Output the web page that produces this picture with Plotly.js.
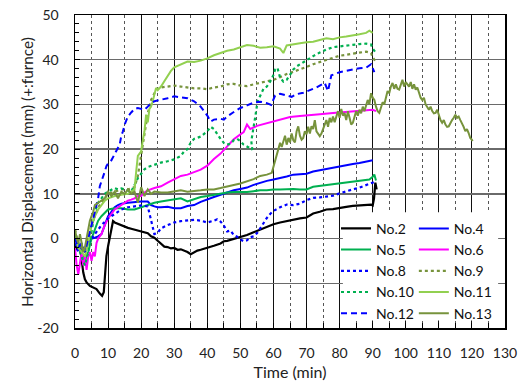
<!DOCTYPE html>
<html><head><meta charset="utf-8">
<script src="https://cdn.plot.ly/plotly-3.0.1.min.js"></script>
<style>html,body{margin:0;padding:0;background:#fff;}#c{width:519px;height:391px;}</style>
</head><body><div id="c"></div>
<script>
// ---- data ----
var names = ['No.2','No.4','No.5','No.6','No.8','No.9','No.10','No.11','No.12','No.13'];

var t2 = [0,0.5,1,1.5,2,2.5,3,3.5,4.5,5.5,6.5,7.5,8.2,8.7,9.1,9.5,10,10.5,11,11.5,12,13,14,15,16,17,18,19,20,21,22,23,24,25,26,27,28,29,30,31,32,33,34,35,36,37,38,40,42,44,45,46,48,50,52,54,56,58,60,62,64,66,68,70,72,74,76,78,80,82,84,86,88,89.5,90,90.4,90.8,91.2];
var y2 = [-1,-2.5,-2,-1.7,-4.7,-7.6,-9.1,-9.8,-10.6,-11,-11.3,-12.3,-12.8,-12,-8,-3.9,-1.7,0.5,2.2,3.9,3.6,3.3,3,2.6,2.4,2.2,2,1.8,1.6,1.5,1.2,0.5,0.2,-0.5,-1.2,-1.8,-1.9,-2.2,-2.1,-2.5,-2.4,-2.7,-3,-3.5,-3.0,-2.7,-2.5,-2.1,-1.6,-1.1,-0.6,-0.5,-0.1,0.4,0.8,1.4,2.0,2.6,3.2,3.6,3.9,4.3,4.5,4.7,5.6,6.0,6.5,6.6,6.9,7.1,7.3,7.4,7.5,7.6,7.4,9,12.5,11];

var t4 = [0,1,2,3,4,5,6,7,8,9,10,11,12,13,14,16,18,20,22,23,24,25,26,28,30,32,34,36,38,40,42,44,46,48,50,52,54,56,58,60,62,64,66,68,70,72,74,76,78,80,82,84,86,88,90];
var y4 = [-1,-2,-1.5,-3,-1,0,0.2,0.5,1,3,5,6,7,7.5,7.8,8,8.2,8.3,8.3,7.5,7.2,7,7,7.1,6.8,6.8,7.3,7.5,8.2,8.8,9.3,9.8,10.3,10.8,11.1,11.4,12,12.5,12.9,13.2,13.5,13.9,14.3,14.4,14.5,15,15.3,15.6,15.8,16.1,16.4,16.7,16.9,17.2,17.5];

var t5 = [0,1,2,3,4,5,6,7,8,9,10,12,14,16,18,20,22,24,26,28,30,32,34,36,38,40,42,44,46,48,50,52,54,56,58,60,62,64,66,68,70,72,74,76,78,80,82,84,86,88,89,90,90.5,91];
var y5 = [1,-1,-3,-5,-3,0,2,4,5,5.8,6.5,6.8,6.8,6.5,6.5,7,7.5,8,8.3,8.5,8.8,9,8.3,8.8,9.3,9.5,9.8,10.1,10.3,10.4,10.4,10.4,10.6,10.8,10.8,11,11,11.1,11.1,11,11,11.6,11.8,12,12.1,12.3,12.6,12.8,13,13.2,13.2,13.8,14.3,13];

var t6 = [0,0.5,1,1.5,2,2.5,3,3.5,4,4.5,5,5.5,6,6.5,7,8,9,10,11,12,13,14,15,16,17,18,19,20,21,22,24,26,28,30,32,34,36,38,40,42,44,45,46,48,50,51,52,53,55,57,59,61,63,65,68,70,74,78,82,86,90,91];
var y6 = [-2,-6,-8,-5,-3,-6,-4,-7,-4,-3,-5,-3,-4,-1,0,1,3,4.5,5.5,6.5,7,7.5,8,8.5,8.7,9,9.5,9.5,10.3,10.8,11.3,11.7,12.5,13.3,14,14.3,14.8,15.4,16.3,17.8,19,19.8,20.6,22.2,23.3,23.8,25.5,24.5,25.2,25.6,26,26.4,26.8,27.2,27.4,27.5,27.8,28.1,28.3,28.6,28.8,28.5];

var t8 = [0,1,2,3,4,5,6,7,8,10,12,14,16,18,20,22,23,24,25,26,28,30,32,34,36,38,40,42,43,44,45,46,47,48,49,50,51,52,53,54,55,56,57,58,59,60,62,64,66,68,70,72,74,76,78,80,82,84,86,88,90,91];
var y8 = [-1,-3,-2,-3,-1,0,1,2,3,4.5,5.5,6.5,7,7.2,7.4,7.2,4,1,1.3,2.3,3,3.6,3.9,4.0,4.2,4.0,3.6,4.0,4.3,3.8,2.9,1.6,1.8,0.8,0.4,-0.2,-0.6,-0.4,0.3,0.5,1.2,2.3,3.6,4.6,5.5,6.2,7.0,7.6,7.5,7.8,8.6,9.1,9.2,9.4,9.6,10.1,10.6,11.0,11.4,12.0,12.5,12.8];

var t9 = [0,1,2,3,4,5,6,7,8,9,10,12,14,16,18,19,20,21,22,23,24,25,26,28,30,32,34,36,38,40,42,44,46,48,50,52,54,56,58,60,62,64,66,68,70,72,74,76,78,80,82,84,86,88,89.5,90,91];
var y9 = [2,-1,-2,-3,0,3,5,7,8,9,10,10.5,11,11,11.5,14,19,24,28,31,32.5,33.5,33.8,34,34.2,34,33.8,33.6,33.6,33.4,33.8,34,34.5,34.6,34.2,34.1,34.5,34.8,35.1,35.5,36.1,36.8,37.3,37.8,38.4,39,39.5,40,40.5,40.9,41.1,41.4,41.6,41.8,41.5,40.5,39.5];

var t10 = [0,1,2,3,4,5,6,7,8,9,10,11,12,13,14,15,16,17,18,19,20,21,22,24,26,28,30,32,33,34,35,36,38,40,41,42,43,44,45,46,47,48,49,50,51,52,53,53.6,53.3,54,54.6,55.2,56,57,58,59,60,60.5,61.2,62,63,64,65,66,67,68,70,72,74,76,78,80,82,84,86,88,89.5,90,91];
var y10 = [1,-2,-4,-6,-3,2,6,8,9,10,10.5,11,11.3,11,11.2,11,10.8,10.5,12,13.5,14.5,15.5,16,16.5,17,17.3,17.7,18.5,19.5,20,21.5,22.3,22.8,24,25,24.5,23.3,22.3,21.4,21,21.2,22,22.3,21.8,21,20.5,20,19.9,21.8,24.7,27.7,30.7,32,33.5,34,35.1,36.6,37.8,38.2,36,35.1,35.5,36.6,37.8,38.5,39,40,40.8,41.6,42.3,42.8,43,43.2,43.4,43.5,43.6,43.4,42.5,41.5];

var t11 = [0,1,2,3,4,5,6,7,8,9,10,12,14,16,17,18,18.5,19,19.5,20,20.5,21,21.5,22,22.5,23,23.5,24,24.5,25,26,27,28,29,30,32,34,36,38,40,42,44,46,48,50,52,54,56,58,60,62,63,64,66,68,70,72,74,76,78,80,82,84,86,88,89,90];
var y11 = [0,-2,-3,-4,-1,3,5,6.5,7.5,8.5,9,9.5,9.8,10,10.5,11,15,18.5,19,19.5,22,24,27.7,26,29,29.5,30.7,32,33.7,33.2,34,35.2,36.5,37.5,38.3,39,39.6,39.5,39.8,40.3,41,41.5,42,42.3,42.8,43.3,43.1,42.7,42.8,43,42.5,41.5,43.2,43.5,43.7,43.9,44,44.4,44.8,44.6,45,45.2,45.4,45.7,46,46.5,46];

var t12 = [0,1,2,3,4,5,6,6.5,7,7.5,8,8.5,9,9.5,10,11,12,13,13.5,14,14.5,15,16,17,18,19,20,21,22,23,24,26,28,30,32,34,36,38,40,41,42,44,45,46,48,50,52,54,56,58,59.3,60.5,62,64,65.5,67,69,71,73,75.5,76.5,77.5,80,82,84,86,88,89.5,90.5];
var y12 = [0,-2,-1,-3,0,3,6,7.3,9,11.7,13,14,15,16.2,16.8,17.5,19,20.3,21,23,24,25.5,27.3,28.2,29,29.2,29,28.8,29.5,30.3,30.7,31,31.4,31.8,31.6,31.4,30.7,29.5,27.5,26.2,26.6,26.8,26.6,27.3,28.3,29.2,29.8,30.4,30.6,30.3,29.9,32,32.4,32,31.7,32.3,32.6,33.2,33.8,34.8,33,36.5,37.2,37.5,37.8,38.1,38.2,39,37.2];

var t13 = [0,0.5,1,1.5,2,2.5,3,3.5,4,4.5,5,5.5,6,7,8,9,10,11,12,13,14,15,16,17,18,19,20,21,22,23,24,26,28,30,32,34,36,38,40,42,44,46,48,50,52,54,56,58,59.5,60.3,60.8,61.5,62,62.5,63,63.5,64,64.5,65,65.5,66,66.5,67,67.5,68,68.5,69,69.5,70,70.5,71,71.5,72,72.5,73,73.5,74,74.5,75,75.5,76,76.5,77,77.5,78,78.5,79,79.5,80,80.5,81,81.5,82,82.5,83,83.5,84,84.5,85,85.5,86,86.5,87,87.5,88,88.5,89,89.5,90,90.5,91,91.5,92,92.5,93,93.5,94,94.5,95,95.5,96,96.5,97,97.5,98,98.5,99,99.5,100,100.5,101,101.5,102,102.5,103,103.5,104,104.5,105,105.5,106,106.5,107,107.5,108,108.5,109,109.5,110,110.5,111,111.5,112,112.5,113,113.5,114,114.5,115,115.5,116,116.5,117,117.5,118,118.5,119,119.5,120,120.2];
var y13 = [2,0,-1,1,-1,-3,-2,0,2,4,5,6,7.5,8,8.5,9,10.5,9.5,10.5,9,10.5,10,11,10,10.5,8,11.5,9.5,11,10,10.5,10.3,10.3,10.5,10.8,10.5,10.6,10.8,11,11,11.3,11.7,12,12.3,12.8,13.3,14,14.3,14.7,17,18.4,20,21.4,20.5,21.8,23,21,22.5,21.5,23.5,22,21.5,24,25.1,23,22.1,22.5,24,23.3,25,23.5,25.1,24.5,26.5,24,23.5,22.9,23.5,24.5,25.9,26.5,25,27,26,27.3,26,27.5,28.5,27,29,27.5,28.1,26.5,28.5,27,25.5,25.9,27.5,28.5,27.5,28.8,28,29.5,28.5,29.6,31,30,32.5,31.5,31,29.5,28.5,28.1,29.5,30.5,30,31.8,33,32.5,34,34.8,33.5,34.5,33.5,33.3,34.5,35.5,34,35,34.5,34,35,33.5,34.5,33.3,33.8,32.5,31.5,31,31.5,30,29.5,28.8,29.5,28.5,28,28.1,28.8,27.5,26.5,25.9,26.5,25.5,25,25.1,26,26.5,27,27.7,27,27.3,26.5,25.9,25,24,24.5,23.6,22.5,22.1,21.8];

var xTicks = [0,10,20,30,40,50,60,70,80,90,100,110,120,130];
var yTicks = [-20,-10,0,10,20,30,40,50];
var xTitle = 'Time (min)';
var yTitle = 'Horizontal Displacement (mm) (+:furnce)';

// ---- styles ----
var FONT = 'Lato, "Open Sans", sans-serif';
function tr(name, x, y, color, width, dash, leg) {
  return {type:'scatter', mode:'lines', name:name, x:x, y:y, legend:leg,
          line:{color:color, width:width, dash:dash}, hoverinfo:'skip'};
}
var data = [
  tr(names[0], t2,  y2,  '#000000', 2.2, 'solid', 'legend'),
  tr(names[1], t4,  y4,  '#0000ff', 2,   'solid', 'legend2'),
  tr(names[2], t5,  y5,  '#00b050', 2,   'solid', 'legend'),
  tr(names[3], t6,  y6,  '#ff00ff', 2,   'solid', 'legend2'),
  tr(names[4], t8,  y8,  '#0000ff', 2.2, 'dot',   'legend'),
  tr(names[5], t9,  y9,  '#77933c', 2.2, 'dot',   'legend2'),
  tr(names[6], t10, y10, '#00b050', 2.2, 'dot',   'legend'),
  tr(names[7], t11, y11, '#92d050', 2,   'solid', 'legend2'),
  tr(names[8], t12, y12, '#0000ff', 2,   '6px,4px','legend'),
  tr(names[9], t13, y13, '#77933c', 2,   'solid', 'legend2')
];

var legBase = {bgcolor:'rgba(0,0,0,0)', borderwidth:0, orientation:'v',
  font:{family:FONT, size:14, color:'#111'}, yanchor:'top', y:0.368, tracegroupgap:0};
var layout = {
  width:519, height:391,
  margin:{l:75, r:14, t:15, b:63},
  paper_bgcolor:'#fff', plot_bgcolor:'#fff',
  font:{family:FONT, color:'#222'},
  showlegend:true,
  legend: Object.assign({}, legBase, {x:0.607, xanchor:'left'}),
  legend2: Object.assign({}, legBase, {x:0.788, xanchor:'left'}),
  xaxis:{range:[0,130], tickmode:'array', tickvals:xTicks, ticktext:xTicks.map(String),
    showgrid:true, gridcolor:'#111', gridwidth:1, zeroline:false,
    showline:true, linecolor:'#000', linewidth:1.5, mirror:true,
    ticks:'inside', ticklen:5, tickcolor:'#000', tickwidth:1,
    ticklabelstandoff:12,
    tickfont:{family:FONT, size:14, color:'#222'},
    minor:{dtick:5, tick0:0, showgrid:true, gridcolor:'#555', gridwidth:1, griddash:'dot',
      ticks:'inside', ticklen:5, tickcolor:'#000'},
    title:{text:xTitle, font:{family:FONT, size:16, color:'#222'}, standoff:6}},
  yaxis:{range:[-20,50], tickmode:'array', tickvals:yTicks, ticktext:yTicks.map(String),
    showgrid:true, gridcolor:'#6a6a6a', gridwidth:1.5, zeroline:false,
    showline:true, linecolor:'#000', linewidth:1.5, mirror:true,
    ticks:'inside', ticklen:5, tickcolor:'#000', tickwidth:1,
    ticklabelstandoff:12,
    tickfont:{family:FONT, size:14, color:'#222'},
    minor:{dtick:2, tick0:0, showgrid:false, ticks:'inside', ticklen:4, tickcolor:'#000'}},
  annotations:[{text:yTitle, xref:'paper', yref:'paper', x:-0.113, y:0.5,
    xanchor:'center', yanchor:'middle', textangle:-90, showarrow:false,
    font:{family:FONT, size:15.3, color:'#222'}}],
  shapes:[{type:'rect', xref:'paper', yref:'paper', x0:0.623, x1:0.984, y0:0.024, y1:0.37,
    fillcolor:'#ffffff', line:{width:0}, layer:'above'}]
};
Plotly.newPlot('c', data, layout, {staticPlot:true, displayModeBar:false});
</script></body></html>
